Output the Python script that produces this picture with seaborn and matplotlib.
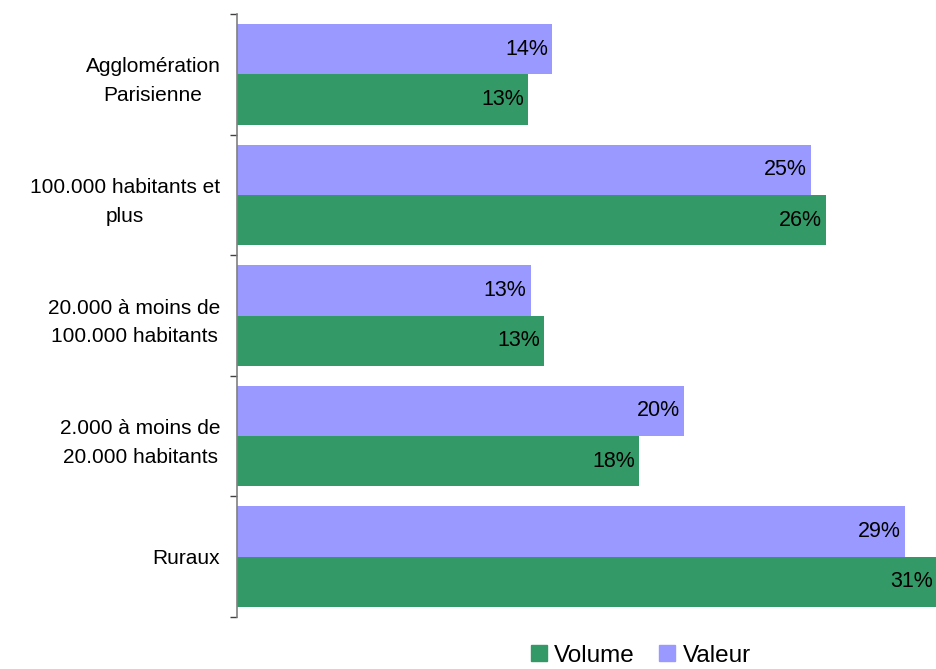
import pandas as pd
import seaborn as sns
import matplotlib.pyplot as plt
from matplotlib.patches import Patch
from matplotlib.ticker import FixedLocator


categories = ["Agglomération\nParisienne", "100.000 habitants et\nplus",
              "20.000 à moins de\n100.000 habitants", "2.000 à moins de\n20.000 habitants",
              "Ruraux"]
valeur = [13.95, 25.4, 13.0, 19.8, 29.6]
volume = [12.9, 26.1, 13.6, 17.8, 31.0]
valeur_labels = ["14%", "25%", "13%", "20%", "29%"]
volume_labels = ["13%", "26%", "13%", "18%", "31%"]

df = pd.DataFrame({
    "Catégorie": categories * 2,
    "Part": valeur + volume,
    "Série": ["Valeur"] * len(categories) + ["Volume"] * len(categories),
})

colors = {"Valeur": "#9999FF", "Volume": "#339966"}

sns.set_style("white")
plt.rcParams['font.family'] = ['Liberation Sans', 'DejaVu Sans']
plt.rcParams['text.color'] = 'black'
plt.rcParams['ytick.labelcolor'] = 'black'

fig = plt.figure(figsize=(9.37, 6.69), dpi=100)
ax = fig.add_axes([237 / 937, 1 - 617 / 669, 1 - 237 / 937, (617 - 14) / 669])

sns.barplot(data=df, y="Catégorie", x="Part", hue="Série", hue_order=["Valeur", "Volume"],
            palette=colors, orient="h", width=0.833, gap=0, saturation=1,
            linewidth=0, legend=False, ax=ax)

# étiquettes de données, alignées à droite dans la barre
for cont, labs in zip(ax.containers, [valeur_labels, volume_labels]):
    txts = ax.bar_label(cont, labels=labs, padding=-3, fontsize=15.5, color="black")
    for t in txts:
        t.set_ha("right")

ax.set_xlim(0, 31.0)
ax.set_ylim(4.5, -0.5)
ax.set_xlabel("")
ax.set_ylabel("")
ax.set_xticks([])

for s in ["top", "right", "bottom"]:
    ax.spines[s].set_visible(False)
ax.spines["left"].set_color("#808080")
ax.spines["left"].set_linewidth(1.2)

ax.tick_params(axis="y", which="major", length=0, pad=12, labelsize=15, labelcolor="black")
ax.yaxis.set_minor_locator(FixedLocator([-0.5, 0.5, 1.5, 2.5, 3.5, 4.5]))
ax.tick_params(axis="y", which="minor", length=5, width=1, color="#404040", left=True)
for t in ax.get_yticklabels():
    t.set_multialignment("center")
    t.set_linespacing(1.65)

handles = [Patch(color=colors["Volume"], label="Volume"),
           Patch(color=colors["Valeur"], label="Valeur")]
fig.legend(handles=handles, loc="center", bbox_to_anchor=(0.684, 0.02), ncol=2,
           frameon=False, fontsize=17.5, handlelength=0.65, handleheight=0.65,
           handletextpad=0.3, columnspacing=1.0, borderaxespad=0, borderpad=0)

plt.savefig("out.png", dpi=100)
